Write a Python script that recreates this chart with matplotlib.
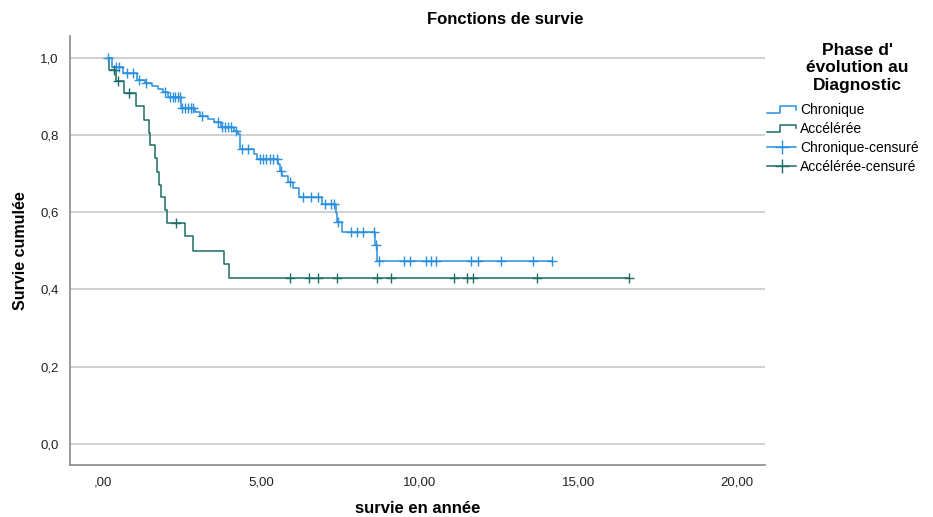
import numpy as np
import matplotlib
matplotlib.use("Agg")
import matplotlib.pyplot as plt
from matplotlib.lines import Line2D
from matplotlib.legend_handler import HandlerBase

plt.rcParams['font.family'] = ['Liberation Sans', 'DejaVu Sans']

# --- data (years, cumulative survival) ---
start_time = 0.17

chron_event_t = [0.28, 0.63, 1.07, 1.32, 1.55, 1.74, 1.89, 2.05, 2.46, 2.90,
                 3.06, 3.31, 3.50, 3.72, 4.13, 4.26, 4.34, 4.76, 4.87, 5.54,
                 5.58, 5.66, 5.84, 6.01, 6.18, 6.91, 7.35, 7.40, 7.54, 8.60, 8.66]
chron_event_s = [0.977, 0.960, 0.943, 0.934, 0.927, 0.920, 0.911, 0.900, 0.870, 0.860,
                 0.850, 0.841, 0.833, 0.822, 0.812, 0.802, 0.765, 0.752, 0.738, 0.726,
                 0.708, 0.695, 0.678, 0.663, 0.641, 0.622, 0.597, 0.575, 0.548, 0.516, 0.474]
chron_censor_t = [0.17, 0.41, 0.50, 0.76, 0.95, 1.14, 1.36, 1.96, 2.11, 2.21, 2.27,
                  2.37, 2.43, 2.49, 2.59, 2.68, 2.78, 2.84, 3.12, 3.63, 3.75, 3.85,
                  3.94, 4.04, 4.20, 4.38, 4.57, 4.95, 5.05, 5.16, 5.27, 5.37, 5.49,
                  5.61, 5.90, 6.32, 6.58, 6.79, 7.00, 7.21, 7.30, 7.41, 7.82, 8.03,
                  8.21, 8.56, 8.61, 8.72, 9.51, 9.68, 10.21, 10.34, 10.50, 11.62,
                  11.85, 12.56, 13.59, 14.18]

accel_event_t = [0.20, 0.40, 0.65, 1.03, 1.30, 1.45, 1.50, 1.64, 1.71, 1.78,
                 1.83, 1.96, 2.03, 2.59, 2.85, 3.82, 3.98]
accel_event_s = [0.970, 0.940, 0.910, 0.875, 0.840, 0.805, 0.775, 0.740, 0.705, 0.670,
                 0.640, 0.605, 0.572, 0.538, 0.501, 0.467, 0.430]
accel_censor_t = [0.36, 0.48, 0.83, 2.32, 5.90, 6.50, 6.78, 7.38, 8.64, 9.09,
                  11.07, 11.50, 11.67, 13.71, 16.60]

labels = ["Chronique", "Accélérée", "Chronique-censuré", "Accélérée-censuré"]
col_chron = "#2b8fe0"
col_accel = "#1d6b66"


def km_curve(ev_t, ev_s, cens_t):
    t = [start_time] + list(ev_t) + [max(cens_t)]
    s = [1.0] + list(ev_s) + [ev_s[-1]]
    levels = np.array([1.0] + list(ev_s))
    idx = np.searchsorted(np.array(ev_t), np.array(cens_t), side='right')
    return t, s, levels[idx]


class StepHandler(HandlerBase):
    def create_artists(self, legend, orig_handle, xdescent, ydescent,
                       width, height, fontsize, trans):
        x = np.array([0, 0.45, 0.45, 1.0, 1.0]) * width - xdescent
        y = np.array([0.1, 0.1, 0.85, 0.85, 0.45]) * height - ydescent
        ln = Line2D(x, y, color=orig_handle.get_color(), lw=1.1)
        ln.set_transform(trans)
        return [ln]


fig = plt.figure(figsize=(9.33, 5.17), dpi=100)
ax = fig.add_axes([0.075, 0.1006, 0.745, 0.8297])

ct, cs, cy = km_curve(chron_event_t, chron_event_s, chron_censor_t)
at, as_, ay = km_curve(accel_event_t, accel_event_s, accel_censor_t)

ax.step(ct, cs, where='post', color=col_chron, lw=1.1, zorder=3)
ax.step(at, as_, where='post', color=col_accel, lw=1.1, zorder=3)
ax.plot(chron_censor_t, cy, '+', color=col_chron, ms=7, mew=1.0, zorder=4)
ax.plot(accel_censor_t, ay, '+', color=col_accel, ms=7, mew=1.0, zorder=4)

ax.set_xlim(-1.04, 20.9)
ax.set_ylim(-0.055, 1.057)
ax.set_xticks([0, 5, 10, 15, 20])
ax.set_xticklabels([",00", "5,00", "10,00", "15,00", "20,00"], fontsize=9.5)
ax.set_yticks([0, 0.2, 0.4, 0.6, 0.8, 1.0])
ax.set_yticklabels(["0,0", "0,2", "0,4", "0,6", "0,8", "1,0"], fontsize=9.5)
ax.tick_params(length=0, colors='#222222')
ax.tick_params(axis='y', pad=8)
ax.tick_params(axis='x', pad=8)
ax.yaxis.grid(True, color='#c8c8c8', lw=1.2)
ax.set_axisbelow(True)
for sp in ['top', 'right']:
    ax.spines[sp].set_visible(False)
for sp in ['left', 'bottom']:
    ax.spines[sp].set_color('#8a8a8a')
    ax.spines[sp].set_linewidth(1.2)

ax.set_xlabel("survie en année", fontsize=12, fontweight='bold', labelpad=9)
ax.set_ylabel("Survie cumulée", fontsize=11.5, fontweight='bold', labelpad=9)
fig.text(505 / 933, 1 - 20 / 517, "Fonctions de survie", ha='center', va='center',
         fontsize=12, fontweight='bold')

fig.text(857 / 933, 1 - 68 / 517, "Phase d'\névolution au\nDiagnostic",
         ha='center', va='center', multialignment='center', linespacing=1.2,
         fontsize=12.5, fontweight='bold')

handles = [Line2D([], [], color=col_chron), Line2D([], [], color=col_accel),
           Line2D([], [], color=col_chron, marker='+', ms=10, lw=1.1),
           Line2D([], [], color=col_accel, marker='+', ms=10, lw=1.1)]
leg = fig.legend(handles, labels, loc='upper left', bbox_to_anchor=(767 / 933, 1 - 103 / 517),
                 frameon=False, fontsize=10, handlelength=2.1, handletextpad=0.3,
                 labelspacing=0.35, borderpad=0, borderaxespad=0,
                 handler_map={handles[0]: StepHandler(), handles[1]: StepHandler()})

fig.savefig("out.png", dpi=100)
